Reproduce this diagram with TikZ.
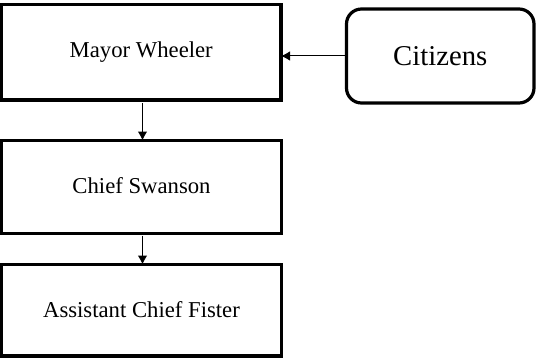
\documentclass[tikz,border=0pt]{standalone}
\usepackage{fontspec}
\setmainfont{Liberation Serif}
\usetikzlibrary{arrows.meta}
\tikzset{
  orgbox/.style={draw=black, line width=3.2pt, fill=white, inner sep=0pt, outer sep=0pt, font=\fontsize{22.7}{27}\selectfont},
  citbox/.style={orgbox, rounded corners=15pt, font=\fontsize{28.7}{34}\selectfont},
  link/.style={draw=black, line width=1pt, -{Latex[length=9pt,width=9.5pt]}}
}
\begin{document}
\begin{tikzpicture}[x=1pt,y=-1pt]
\useasboundingbox (0,0) rectangle (538,361);
\node[orgbox, minimum width=279.5pt, minimum height=95.5pt] (mayor) at (141.25,52.25) {\raisebox{2pt}{Mayor Wheeler}};
\node[orgbox, minimum width=280pt, minimum height=93pt] (chief) at (141.5,187) {\raisebox{3pt}{Chief Swanson}};
\node[orgbox, minimum width=280pt, minimum height=91.5pt] (asst) at (141.5,310.25) {\raisebox{2pt}{Assistant Chief Fister}};
\node[citbox, minimum width=187.5pt, minimum height=94pt] (cit) at (440.25,56) {Citizens};
\draw[link] (cit.west) -- (mayor.east |- cit.west);
\draw[link] (mayor.south -| 142.5,0) ++(0,3) -- (chief.north -| 142.5,0);
\draw[link] (chief.south -| 142.5,0) ++(0,2) -- (asst.north -| 142.5,0);
\end{tikzpicture}
\end{document}
